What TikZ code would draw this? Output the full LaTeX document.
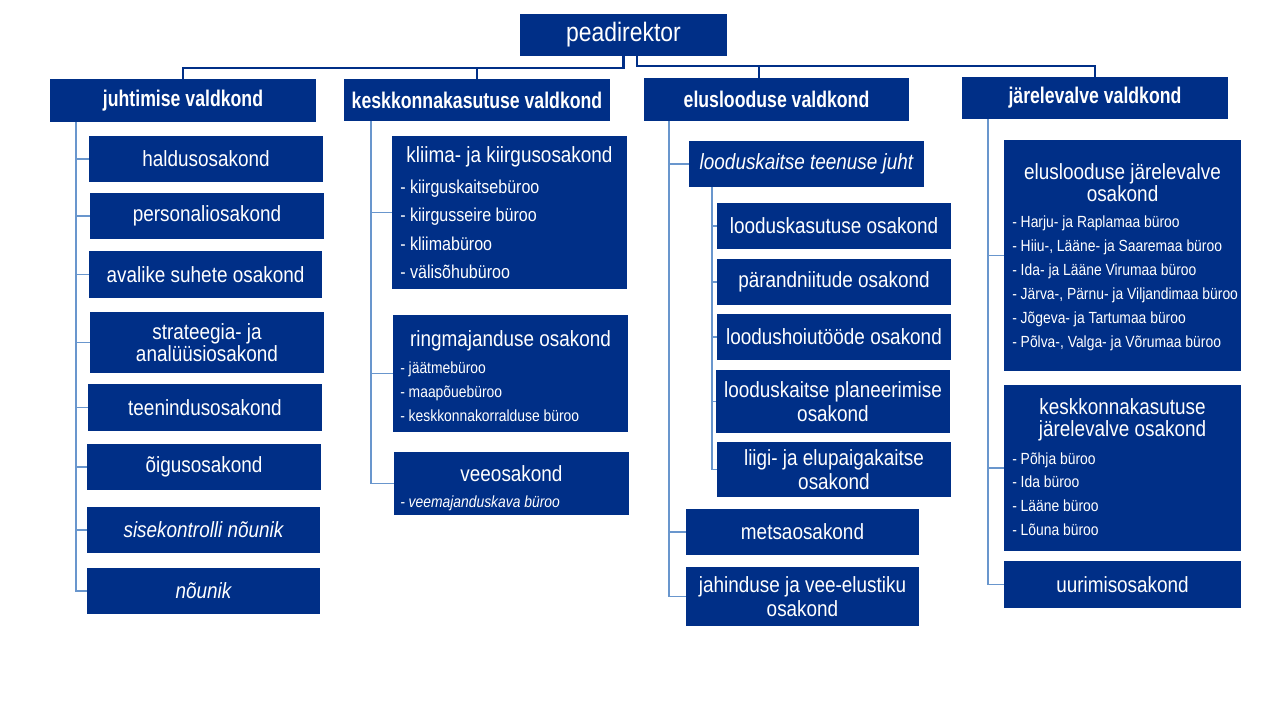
\documentclass[tikz,border=0pt]{standalone}
\usepackage{fontspec}
\setmainfont{Liberation Sans}[FakeStretch=0.86]
\newfontfamily\hdfont{Liberation Sans}[FakeStretch=0.78]
\definecolor{navy}{RGB}{0,47,135}
\definecolor{lnk}{RGB}{105,150,205}
\begin{document}
\begin{tikzpicture}[x=0.75pt,y=-0.75pt,
  box/.style={fill=navy, text=white, inner sep=0pt, align=center, font=\fontsize{16.5}{17.5}\selectfont},
  sz/.style args={#1/#2}{minimum width=#1*0.75pt, minimum height=#2*0.75pt},
  hd/.style={box, font=\hdfont\bfseries\fontsize{17}{20}\selectfont},
  ttl/.style={text=white, inner sep=0pt, anchor=base, font=\fontsize{16.5}{17}\selectfont},
  itemA/.style={text=white, inner sep=0pt, anchor=base west, font=\fontsize{14}{16}\selectfont},
  itemB/.style={text=white, inner sep=0pt, anchor=base west, font=\fontsize{12.1}{14}\selectfont},
  conn/.style={draw=lnk, line width=0.9pt},
  topln/.style={draw=navy, line width=2.2pt}]
\useasboundingbox (0,0) rectangle (1280,720);

% top
\node[box, font=\fontsize{20}{22}\selectfont, sz=207/42] (pd) at (623.5,35) {peadirektor};

% heads
\node[hd, sz=266/43] (jhv) at (183,100.5) {juhtimise valdkond};
\node[hd, sz=266/42] (kv) at (477,100) {keskkonnakasutuse valdkond};
\node[hd, sz=265/43] (el) at (776.5,99.5) {eluslooduse valdkond};
\node[hd, sz=266/42] (jrv) at (1095,98) {järelevalve valdkond};

% column 1
\node[box, sz=234/46] (hal) at (206,159) {haldusosakond};
\node[box, sz=234/46] (per) at (207,216) {personaliosakond};
\node[box, sz=233/47] (ava) at (205.5,274.5) {avalike suhete osakond};
\node[box, font=\fontsize{16.5}{16}\selectfont, sz=234/61] (str) at (207,342.5) {strateegia- ja\\analüüsiosakond};
\node[box, sz=234/47] (tee) at (205,407.5) {teenindusosakond};
\node[box, sz=234/46] (oig) at (204,467) {õigusosakond};
\node[box, sz=233/46] (sis) at (203.5,530) {\itshape sisekontrolli nõunik};
\node[box, sz=233/46] (nou) at (203.5,591) {\itshape nõunik};

% column 2
\node[box, sz=235/153] (kl) at (509.5,212.5) {};
\node[ttl] (klt) at (509.5,163) {kliima- ja kiirgusosakond};
\foreach \t [count=\i] in {- kiirguskaitsebüroo, - kiirgusseire büroo, - kliimabüroo, - välisõhubüroo}
  \node[itemA] (kl-\i) at (400,{194+(\i-1)*28}) {\t};

\node[box, sz=235/117] (rm) at (510.5,373.5) {};
\node[ttl] (rmt) at (510.5,346) {ringmajanduse osakond};
\foreach \t [count=\i] in {- jäätmebüroo, - maapõuebüroo, - keskkonnakorralduse büroo}
  \node[itemB] (rm-\i) at (400,{373+(\i-1)*24}) {\t};

\node[box, sz=235/63] (vee) at (511.5,483.5) {};
\node[ttl] (veet) at (511.5,481) {veeosakond};
\node[itemB] (vee-1) at (400,507) {\itshape - veemajanduskava büroo};

% column 3
\node[box, sz=235/46] (lkj) at (806.5,164) {\itshape looduskaitse teenuse juht};
\node[box, sz=234/46] (lks) at (834,226) {looduskasutuse osakond};
\node[box, sz=234/46] (par) at (834,282) {pärandniitude osakond};
\node[box, sz=234/46] (lho) at (834,337) {loodushoiutööde osakond};
\node[box, sz=234/63] (lpl) at (833,401.5) {looduskaitse planeerimise\\osakond};
\node[box, sz=234/55] (lii) at (834,469.5) {liigi- ja elupaigakaitse\\osakond};
\node[box, sz=233/46] (met) at (802.5,532) {metsaosakond};
\node[box, sz=233/59] (jah) at (802.5,596.5) {jahinduse ja vee-elustiku\\osakond};

% column 4
\node[box, sz=237/231] (ekj) at (1122.5,255.5) {};
\node[ttl] (ekt1) at (1122.5,180) {eluslooduse järelevalve};
\node[ttl] (ekt2) at (1122.5,202) {osakond};
\foreach \t [count=\i] in {{- Harju- ja Raplamaa büroo}, {- Hiiu-, Lääne- ja Saaremaa büroo}, {- Ida- ja Lääne Virumaa büroo}, {- Järva-, Pärnu- ja Viljandimaa büroo}, {- Jõgeva- ja Tartumaa büroo}, {- Põlva-, Valga- ja Võrumaa büroo}}
  \node[itemB] (ek-\i) at (1012,{228+(\i-1)*23.8}) {\t};

\node[box, sz=237/166] (kkj) at (1122.5,468) {};
\node[ttl] (kkt1) at (1122.5,414) {keskkonnakasutuse};
\node[ttl] (kkt2) at (1122.5,436) {järelevalve osakond};
\foreach \t [count=\i] in {- Põhja büroo, - Ida büroo, - Lääne büroo, - Lõuna büroo}
  \node[itemB] (kk-\i) at (1012,{464+(\i-1)*23.8}) {\t};

\node[box, sz=237/47] (uur) at (1122.5,584.5) {uurimisosakond};

% top connectors
\coordinate (busL) at (623.5,68);
\coordinate (pR) at (637,56);
\coordinate (busR) at (637,66);
\coordinate (elR) at (759,66);
\draw[topln] (pd.south) -- (busL) -| (jhv.north);
\draw[topln] (busL) -| (kv.north);
\draw[topln] (pR) -- (busR) -| (jrv.north);
\draw[topln] (elR) -- (elR |- el.north);

% column connectors
\coordinate (c1) at (76,122);
\draw[conn] (c1) |- (nou.west);
\foreach \n in {hal,per,ava,str,tee,oig,sis} \draw[conn] (c1 |- \n.west) -- (\n.west);

\coordinate (c2) at (371,121);
\draw[conn] (c2) |- (vee.west);
\foreach \n in {kl,rm} \draw[conn] (c2 |- \n.west) -- (\n.west);

\coordinate (c3) at (669,121);
\draw[conn] (c3) |- (jah.west);
\foreach \n in {lkj,met} \draw[conn] (c3 |- \n.west) -- (\n.west);

\coordinate (c3s) at (712,187);
\draw[conn] (c3s) |- (lii.west);
\foreach \n in {lks,par,lho,lpl} \draw[conn] (c3s |- \n.west) -- (\n.west);

\coordinate (c4) at (988,119);
\draw[conn] (c4) |- (uur.west);
\foreach \n in {ekj,kkj} \draw[conn] (c4 |- \n.west) -- (\n.west);
\end{tikzpicture}
\end{document}
